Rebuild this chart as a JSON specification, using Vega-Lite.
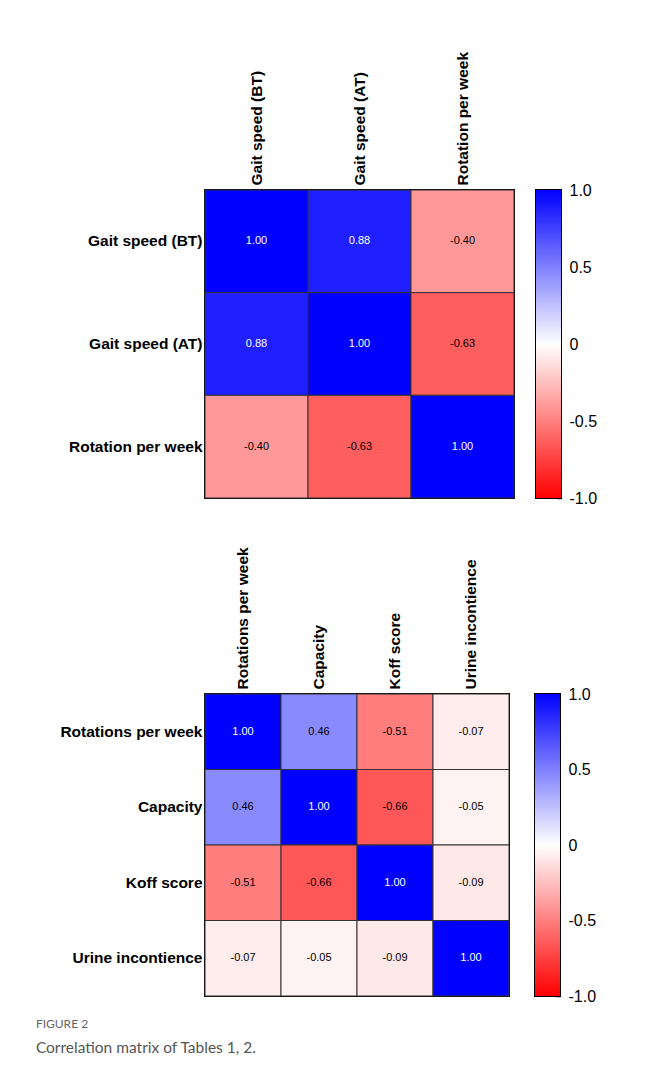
{
  "$schema": "https://vega.github.io/schema/vega-lite/v6.json",
  "background": "white",
  "padding": {"left": 35, "top": 50, "right": 5, "bottom": 5},
  "config": {
    "locale": {"number": {"decimal": ".", "thousands": ",", "grouping": [3], "currency": ["$", ""], "minus": "-"}},
    "view": {"stroke": "black", "strokeWidth": 2},
    "font": "Liberation Sans",
    "axis": {"domain": false, "ticks": false, "grid": false, "labelFont": "Liberation Sans", "labelFontSize": 15.5, "labelFontWeight": "bold", "labelColor": "black", "title": null, "labelPadding": 3, "labelLimit": 250}
  },
  "spacing": 38,
  "title": {"text": "FIGURE 2", "subtitle": "Correlation matrix of Tables 1, 2.", "orient": "bottom", "anchor": "start", "frame": "bounds", "dx": -23, "offset": 14, "font": "Lato", "fontSize": 12, "fontWeight": "normal", "color": "#666666", "subtitleFont": "Lato", "subtitleFontSize": 15.5, "subtitleColor": "#555555", "subtitlePadding": 10},
  "vconcat": [
    {
      "spacing": 18,
      "hconcat": [
        {
          "width": 309,
          "height": 308,
          "data": {"values": [
            {"row": "Gait speed (BT)", "col": "Gait speed (BT)", "r": 1.00},
            {"row": "Gait speed (BT)", "col": "Gait speed (AT)", "r": 0.88},
            {"row": "Gait speed (BT)", "col": "Rotation per week", "r": -0.40},
            {"row": "Gait speed (AT)", "col": "Gait speed (BT)", "r": 0.88},
            {"row": "Gait speed (AT)", "col": "Gait speed (AT)", "r": 1.00},
            {"row": "Gait speed (AT)", "col": "Rotation per week", "r": -0.63},
            {"row": "Rotation per week", "col": "Gait speed (BT)", "r": -0.40},
            {"row": "Rotation per week", "col": "Gait speed (AT)", "r": -0.63},
            {"row": "Rotation per week", "col": "Rotation per week", "r": 1.00}
          ]},
          "layer": [
            {
              "mark": {"type": "rect", "stroke": "#333333", "strokeWidth": 1},
              "encoding": {
                "x": {"field": "col", "type": "nominal", "sort": ["Gait speed (BT)", "Gait speed (AT)", "Rotation per week"], "axis": {"orient": "top", "labelAngle": -90, "labelAlign": "left", "labelBaseline": "middle", "labelPadding": 5}},
                "y": {"field": "row", "type": "nominal", "sort": ["Gait speed (BT)", "Gait speed (AT)", "Rotation per week"]},
                "color": {"field": "r", "type": "quantitative", "scale": {"domain": [-1, 0, 1], "range": ["#ff0000", "#ffffff", "#0000ff"], "interpolate": "rgb"}, "legend": null}
              }
            },
            {
              "mark": {"type": "text", "fontSize": 11, "font": "Liberation Sans"},
              "encoding": {
                "x": {"field": "col", "type": "nominal", "sort": ["Gait speed (BT)", "Gait speed (AT)", "Rotation per week"]},
                "y": {"field": "row", "type": "nominal", "sort": ["Gait speed (BT)", "Gait speed (AT)", "Rotation per week"]},
                "text": {"field": "r", "type": "quantitative", "format": ".2f"},
                "color": {"condition": {"test": "datum.r > 0.7", "value": "white"}, "value": "black"}
              }
            }
          ]
        },
        {
          "width": 25,
          "height": 308,
          "data": {"values": [{"lo": -1, "hi": 1, "left": 0, "right": 1}]},
          "layer": [
            {
              "mark": {"type": "rect", "fill": {"gradient": "linear", "x1": 0, "y1": 1, "x2": 0, "y2": 0, "stops": [{"offset": 0, "color": "#ff0000"}, {"offset": 0.5, "color": "#ffffff"}, {"offset": 1, "color": "#0000ff"}]}},
              "encoding": {
                "x": {"field": "left", "type": "quantitative", "scale": {"domain": [0, 1], "nice": false}, "axis": null},
                "x2": {"field": "right"},
                "y": {"field": "lo", "type": "quantitative", "scale": {"domain": [-1, 1], "nice": false, "zero": false}, "axis": {"orient": "right", "values": [-1, -0.5, 0, 0.5, 1], "ticks": true, "tickSize": -4, "tickWidth": 1.5, "tickColor": "black", "labelPadding": 12, "labelFontWeight": "normal", "labelFontSize": 16, "labelExpr": "datum.value == 0 ? '0' : format(datum.value, '.1f')"}},
                "y2": {"field": "hi"}
              }
            },
            {
              "mark": {"type": "rect", "fillOpacity": 0},
              "encoding": {
                "x": {"field": "left", "type": "quantitative", "axis": null},
                "x2": {"field": "right"},
                "y": {"field": "lo", "type": "quantitative", "axis": {"orient": "left", "values": [-0.5, 0, 0.5], "ticks": true, "tickSize": -4, "tickWidth": 1.5, "tickColor": "black", "labels": false}},
                "y2": {"field": "hi"}
              }
            }
          ],
          "resolve": {"axis": {"y": "independent"}}
        }
      ]
    },
    {
      "spacing": 22,
      "hconcat": [
        {
          "width": 304,
          "height": 302,
          "data": {"values": [
            {"row": "Rotations per week", "col": "Rotations per week", "r": 1.00},
            {"row": "Rotations per week", "col": "Capacity", "r": 0.46},
            {"row": "Rotations per week", "col": "Koff score", "r": -0.51},
            {"row": "Rotations per week", "col": "Urine incontience", "r": -0.07},
            {"row": "Capacity", "col": "Rotations per week", "r": 0.46},
            {"row": "Capacity", "col": "Capacity", "r": 1.00},
            {"row": "Capacity", "col": "Koff score", "r": -0.66},
            {"row": "Capacity", "col": "Urine incontience", "r": -0.05},
            {"row": "Koff score", "col": "Rotations per week", "r": -0.51},
            {"row": "Koff score", "col": "Capacity", "r": -0.66},
            {"row": "Koff score", "col": "Koff score", "r": 1.00},
            {"row": "Koff score", "col": "Urine incontience", "r": -0.09},
            {"row": "Urine incontience", "col": "Rotations per week", "r": -0.07},
            {"row": "Urine incontience", "col": "Capacity", "r": -0.05},
            {"row": "Urine incontience", "col": "Koff score", "r": -0.09},
            {"row": "Urine incontience", "col": "Urine incontience", "r": 1.00}
          ]},
          "layer": [
            {
              "mark": {"type": "rect", "stroke": "#333333", "strokeWidth": 1},
              "encoding": {
                "x": {"field": "col", "type": "nominal", "sort": ["Rotations per week", "Capacity", "Koff score", "Urine incontience"], "axis": {"orient": "top", "labelAngle": -90, "labelAlign": "left", "labelBaseline": "middle", "labelPadding": 5}},
                "y": {"field": "row", "type": "nominal", "sort": ["Rotations per week", "Capacity", "Koff score", "Urine incontience"]},
                "color": {"field": "r", "type": "quantitative", "scale": {"domain": [-1, 0, 1], "range": ["#ff0000", "#ffffff", "#0000ff"], "interpolate": "rgb"}, "legend": null}
              }
            },
            {
              "mark": {"type": "text", "fontSize": 11, "font": "Liberation Sans"},
              "encoding": {
                "x": {"field": "col", "type": "nominal", "sort": ["Rotations per week", "Capacity", "Koff score", "Urine incontience"]},
                "y": {"field": "row", "type": "nominal", "sort": ["Rotations per week", "Capacity", "Koff score", "Urine incontience"]},
                "text": {"field": "r", "type": "quantitative", "format": ".2f"},
                "color": {"condition": {"test": "datum.r > 0.7", "value": "white"}, "value": "black"}
              }
            }
          ]
        },
        {
          "width": 25,
          "height": 302,
          "data": {"values": [{"lo": -1, "hi": 1, "left": 0, "right": 1}]},
          "layer": [
            {
              "mark": {"type": "rect", "fill": {"gradient": "linear", "x1": 0, "y1": 1, "x2": 0, "y2": 0, "stops": [{"offset": 0, "color": "#ff0000"}, {"offset": 0.5, "color": "#ffffff"}, {"offset": 1, "color": "#0000ff"}]}},
              "encoding": {
                "x": {"field": "left", "type": "quantitative", "scale": {"domain": [0, 1], "nice": false}, "axis": null},
                "x2": {"field": "right"},
                "y": {"field": "lo", "type": "quantitative", "scale": {"domain": [-1, 1], "nice": false, "zero": false}, "axis": {"orient": "right", "values": [-1, -0.5, 0, 0.5, 1], "ticks": true, "tickSize": -4, "tickWidth": 1.5, "tickColor": "black", "labelPadding": 12, "labelFontWeight": "normal", "labelFontSize": 16, "labelExpr": "datum.value == 0 ? '0' : format(datum.value, '.1f')"}},
                "y2": {"field": "hi"}
              }
            },
            {
              "mark": {"type": "rect", "fillOpacity": 0},
              "encoding": {
                "x": {"field": "left", "type": "quantitative", "axis": null},
                "x2": {"field": "right"},
                "y": {"field": "lo", "type": "quantitative", "axis": {"orient": "left", "values": [-0.5, 0, 0.5], "ticks": true, "tickSize": -4, "tickWidth": 1.5, "tickColor": "black", "labels": false}},
                "y2": {"field": "hi"}
              }
            }
          ],
          "resolve": {"axis": {"y": "independent"}}
        }
      ]
    }
  ]
}
